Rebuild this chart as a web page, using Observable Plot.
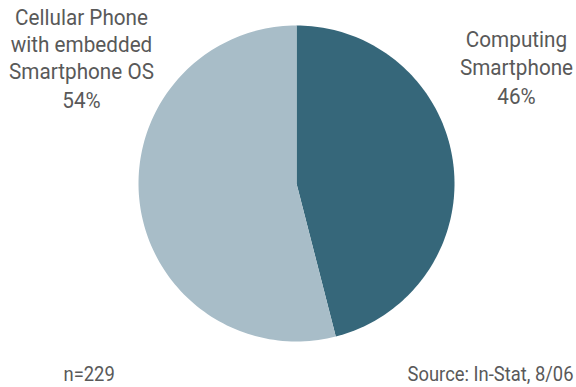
<!DOCTYPE html>
<html>
<head>
<meta charset="utf-8">
<script src="https://cdn.jsdelivr.net/npm/d3@7"></script>
<script src="https://cdn.jsdelivr.net/npm/@observablehq/plot@0.6"></script>
<style>
  html, body { margin: 0; padding: 0; background: #fff; }
  #chart svg { display: block; }
</style>
</head>
<body>
<div id="chart"></div>
<script>
// Data
const categories = ["Computing Smartphone", "Cellular Phone with embedded Smartphone OS"];
const shares = [46, 54];
const colors = ["#36677a", "#a8bdc8"];
const labelLines = [
  ["Computing", "Smartphone", "46%"],
  ["Cellular Phone", "with embedded", "Smartphone OS", "54%"]
];
const sampleNote = "n=229";
const sourceNote = "Source: In-Stat, 8/06";

// Layout
const W = 576, H = 387;
const cx = 296, cy = 183, R = 158;
const font = "Roboto, 'Liberation Sans', sans-serif";
const textColor = "#595959";
const squeeze = 0.92;

const pie = d3.pie().sort(null).value(d => d.value)(
  categories.map((c, i) => ({category: c, value: shares[i], color: colors[i]}))
);

const polys = [];
pie.forEach(a => {
  const n = 120;
  polys.push({category: a.data.category, x: cx, y: cy});
  for (let k = 0; k <= n; k++) {
    const t = a.startAngle + (a.endAngle - a.startAngle) * k / n;
    polys.push({category: a.data.category, x: cx + R * Math.sin(t), y: cy - R * Math.cos(t)});
  }
  polys.push({category: a.data.category, x: cx, y: cy});
});

// label positions (center x, baselines)
const labelPos = [
  {x: 516, baselines: [54, 82, 111]},
  {x: 81, baselines: [32, 59, 86, 115]}
];
const labelRows = [];
labelLines.forEach((lines, i) => {
  lines.forEach((t, j) => labelRows.push({text: t, x: labelPos[i].x, y: labelPos[i].baselines[j]}));
});

const fs = 22.5, fs2 = 20;
const chart = Plot.plot({
  width: W,
  height: H,
  margin: 0,
  x: {type: "identity", axis: null},
  y: {type: "identity", axis: null},
  color: {domain: categories, range: colors},
  style: {fontFamily: font, background: "#fff"},
  marks: [
    Plot.line(polys, {x: "x", y: "y", z: "category", fill: "category", stroke: "none", curve: "linear"}),
    Plot.text(labelRows, {x: "x", y: d => d.y - 0.32 * fs, text: "text", fontSize: fs, fill: textColor, textAnchor: "middle"}),
    Plot.text([sampleNote], {x: () => 63, y: () => 387 - 0.32 * fs2, text: d => d, fontSize: fs2, fill: textColor, textAnchor: "start"}),
    Plot.text([sourceNote], {x: () => 573, y: () => 387 - 0.32 * fs2, text: d => d, fontSize: fs2, fill: textColor, textAnchor: "end"})
  ]
});
// condense text horizontally about its anchor point
chart.querySelectorAll("text").forEach(t => {
  let tr = t.getAttribute("transform") || "";
  if (t.hasAttribute("x") || t.hasAttribute("y")) {
    const x = +t.getAttribute("x") || 0, y = +t.getAttribute("y") || 0;
    t.removeAttribute("x"); t.removeAttribute("y");
    tr = tr + ` translate(${x},${y})`;
  }
  t.setAttribute("transform", tr + ` scale(${squeeze},1)`);
});
document.getElementById("chart").appendChild(chart);
</script>
</body>
</html>
